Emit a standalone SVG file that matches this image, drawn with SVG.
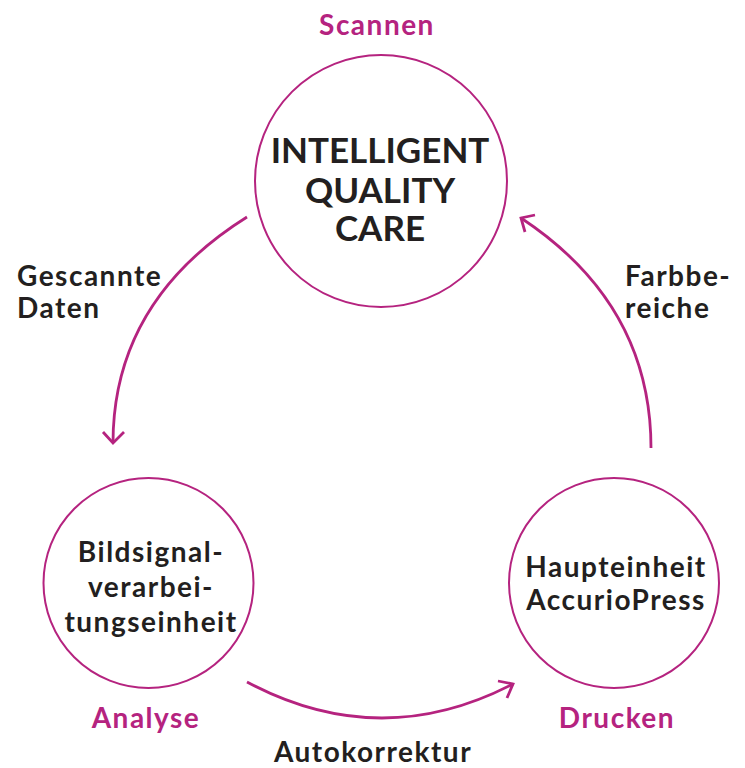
<svg xmlns="http://www.w3.org/2000/svg" width="745" height="768" viewBox="0 0 745 768">
<style>
.node{fill:#fff;stroke:#b5237f;stroke-width:2}
.t{font-family:Lato,"Noto Sans",sans-serif;font-weight:bold;fill:#231f20;font-size:28px;letter-spacing:1.5px}
.big{font-size:35px;letter-spacing:0}
.p{font-family:Lato,"Noto Sans",sans-serif;font-weight:bold;fill:#b5237f;font-size:28px;letter-spacing:1.5px}
.c{fill:none;stroke:#b5237f;stroke-width:2.8}
.head{fill:none;stroke:#b5237f;stroke-width:2.8;stroke-linecap:butt;stroke-linejoin:miter}
</style>
<rect width="745" height="768" fill="#fff"/>
<g id="connectors">
<path class="c" d="M247,217 Q113,301 113,443"/>
<polyline class="head" points="103,432 113,443 124,432"/>
<path class="c" d="M651,448 Q651,304 521,218"/>
<polyline class="head" points="535,215 521,218 525,232"/>
<path class="c" d="M247,682 Q380,753 513,684"/>
<polyline class="head" points="498,681 513,684 507,698"/>
<text class="t" x="17" y="286">Gescannte</text>
<text class="t" x="17" y="318">Daten</text>
<text class="t" x="625" y="286">Farbbe-</text>
<text class="t" x="625" y="318">reiche</text>
<text class="t" x="373" y="762" text-anchor="middle">Autokorrektur</text>
</g>
<g id="scan">
<circle class="node" cx="381" cy="181" r="126"/>
<text class="p" x="377" y="35" text-anchor="middle">Scannen</text>
<text class="t big" x="380" y="163" text-anchor="middle">INTELLIGENT</text>
<text class="t big" x="380" y="203" text-anchor="middle">QUALITY</text>
<text class="t big" x="380" y="241" text-anchor="middle">CARE</text>
</g>
<g id="analyse">
<circle class="node" cx="148.5" cy="583" r="105"/>
<text class="t" x="151" y="562" text-anchor="middle">Bildsignal-</text>
<text class="t" x="151" y="597" text-anchor="middle">verarbei-</text>
<text class="t" x="151" y="632" text-anchor="middle">tungseinheit</text>
<text class="p" x="146" y="728" text-anchor="middle">Analyse</text>
</g>
<g id="drucken">
<circle class="node" cx="614" cy="583" r="105"/>
<text class="t" x="616" y="577" text-anchor="middle">Haupteinheit</text>
<text class="t" x="616" y="610" text-anchor="middle">AccurioPress</text>
<text class="p" x="617" y="728" text-anchor="middle">Drucken</text>
</g>
</svg>
